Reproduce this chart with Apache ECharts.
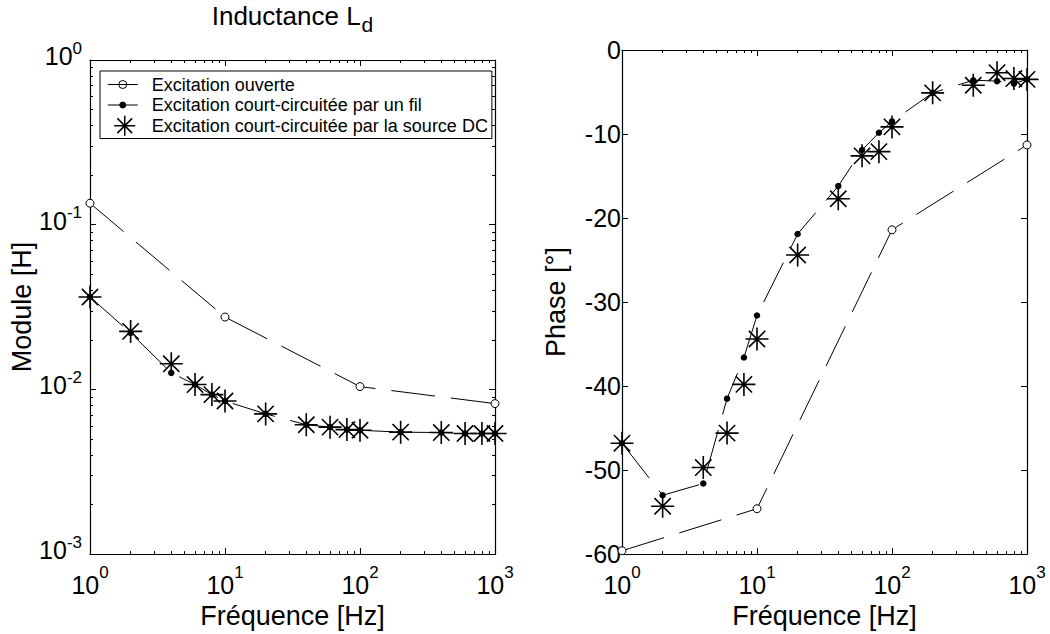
<!DOCTYPE html>
<html>
<head>
<meta charset="utf-8">
<script src="https://cdn.jsdelivr.net/npm/echarts@6/dist/echarts.min.js"></script>
<style>html,body{margin:0;padding:0;background:#fff}#c{width:1050px;height:634px}</style>
</head>
<body>
<div id="c"></div>
<script>
// ---- data ----
const freqMain = [1, 2, 4, 6, 8, 10, 20, 40, 60, 80, 100, 200, 400, 600, 800, 1000];
const freqOpen = [1, 10, 100, 1000];
const modOpen = [0.135, 0.0275, 0.0104, 0.0082];
const modWire = [0.0364, 0.0220, 0.0126, 0.0107, 0.0093, 0.0085, 0.0071, 0.0061, 0.0059, 0.0057, 0.00565, 0.0055, 0.00547, 0.0054, 0.0054, 0.0054];
const modDC = [0.0364, 0.0225, 0.0143, 0.0107, 0.0093, 0.0085, 0.0071, 0.0061, 0.0059, 0.0057, 0.00565, 0.0055, 0.00547, 0.0054, 0.0054, 0.0054];
const phOpen = [-59.6, -54.6, -21.4, -11.3];
const phWire = [-46.8, -53.0, -51.6, -41.5, -36.6, -31.6, -21.9, -16.2, -11.9, -9.85, -8.5, -5.1, -3.6, -3.7, -4.0, -3.5];
const phDC = [-46.8, -54.3, -49.7, -45.6, -39.8, -34.4, -24.4, -17.7, -12.6, -12.1, -9.15, -5.1, -4.2, -2.7, -3.4, -3.5];
const seriesNames = ['Excitation ouverte', 'Excitation court-circuitée par un fil', 'Excitation court-circuitée par la source DC'];
const titleText = 'Inductance L';
const titleSub = 'd';
const xName = 'Fréquence [Hz]';
const yNameLeft = 'Module [H]';
const yNameRight = 'Phase [°]';
const xMinorTicks = [2,3,4,5,6,7,8,9,20,30,40,50,60,70,80,90,200,300,400,500,600,700,800,900];
const yMinorTicks = [0.002,0.003,0.004,0.005,0.006,0.007,0.008,0.009,0.02,0.03,0.04,0.05,0.06,0.07,0.08,0.09,0.2,0.3,0.4,0.5,0.6,0.7,0.8,0.9];

const FONT = "'Liberation Sans', Arial, sans-serif";
const pairs = (xs, ys) => xs.map((x, i) => [x, ys[i]]);
const STAR = 'path://M50,0L50,100M0,50L100,50M14.6,14.6L85.4,85.4M14.6,85.4L85.4,14.6';
const DASH = [44, 16];
const black = '#000';
const AX_W = 1.2;

const supFmt = v => '{b|10}{s|' + Math.round(Math.log10(v)) + '}';
const richX = { b: { fontSize: 25, fontFamily: FONT, color: black, padding: [8, 0, 0, 0] }, s: { fontSize: 17, fontFamily: FONT, color: black, verticalAlign: 'top' } };
const richY = { b: { fontSize: 25, fontFamily: FONT, color: black, padding: [4, 0, 12, 0] }, s: { fontSize: 17, fontFamily: FONT, color: black, verticalAlign: 'top' } };

function logAxis(grid, pos, min, max, opts) {
  return Object.assign({
    gridIndex: grid, type: 'log', logBase: 10, min: min, max: max, position: pos,
    axisLine: { show: true, onZero: false, lineStyle: { color: black, width: AX_W } },
    axisTick: { show: true, inside: true, length: 6, lineStyle: { color: black } },
    axisLabel: { show: false },
    splitLine: { show: false }, minorTick: { show: false }, minorSplitLine: { show: false }
  }, opts || {});
}
function minorAxis(grid, pos, min, max, vals) {
  return {
    gridIndex: grid, type: 'log', logBase: 10, min: min, max: max, position: pos,
    axisLine: { show: false, onZero: false },
    axisTick: { show: true, inside: true, length: 3, customValues: vals, lineStyle: { color: black } },
    axisLabel: { show: false }, splitLine: { show: false }
  };
}
const nameStyle = { fontSize: 27, fontFamily: FONT, color: black };

const xAxes = [
  logAxis(0, 'bottom', 1, 1000, { name: xName, nameLocation: 'middle', nameGap: 39, nameTextStyle: nameStyle,
    axisLabel: { show: true, formatter: supFmt, rich: richX, margin: 10 } }),
  minorAxis(0, 'bottom', 1, 1000, xMinorTicks),
  logAxis(0, 'top', 1, 1000),
  minorAxis(0, 'top', 1, 1000, xMinorTicks),
  logAxis(1, 'bottom', 1, 1000, { name: xName, nameLocation: 'middle', nameGap: 39, nameTextStyle: nameStyle,
    axisLabel: { show: true, formatter: supFmt, rich: richX, margin: 10 } }),
  minorAxis(1, 'bottom', 1, 1000, xMinorTicks),
  logAxis(1, 'top', 1, 1000),
  minorAxis(1, 'top', 1, 1000, xMinorTicks)
];
const yAxes = [
  logAxis(0, 'left', 0.001, 1, { name: yNameLeft, nameLocation: 'middle', nameGap: 46, nameRotate: 90, nameTextStyle: nameStyle,
    axisLabel: { show: true, formatter: supFmt, rich: richY, margin: 8 } }),
  minorAxis(0, 'left', 0.001, 1, yMinorTicks),
  logAxis(0, 'right', 0.001, 1),
  minorAxis(0, 'right', 0.001, 1, yMinorTicks),
  { gridIndex: 1, type: 'value', min: -60, max: 0, interval: 10, position: 'left',
    name: yNameRight, nameLocation: 'middle', nameGap: 53, nameRotate: 90, nameTextStyle: nameStyle,
    axisLine: { show: true, onZero: false, lineStyle: { color: black, width: AX_W } },
    axisTick: { show: true, inside: true, length: 6, lineStyle: { color: black } },
    axisLabel: { show: true, fontSize: 25, fontFamily: FONT, color: black, margin: 1 },
    splitLine: { show: false } },
  { gridIndex: 1, type: 'value', min: -60, max: 0, interval: 10, position: 'right',
    axisLine: { show: true, onZero: false, lineStyle: { color: black, width: AX_W } },
    axisTick: { show: true, inside: true, length: 6, lineStyle: { color: black } },
    axisLabel: { show: false }, splitLine: { show: false } }
];

function openSeries(xi, yi, data) {
  return { name: seriesNames[0], type: 'line', xAxisIndex: xi, yAxisIndex: yi, data: data, clip: false,
    symbol: 'circle', symbolSize: 8, silent: true,
    itemStyle: { color: '#fff', borderColor: black, borderWidth: 1 },
    lineStyle: { color: black, width: 1, type: DASH }, z: 2 };
}
function wireSeries(xi, yi, data) {
  return { name: seriesNames[1], type: 'line', xAxisIndex: xi, yAxisIndex: yi, data: data, clip: false,
    symbol: 'circle', symbolSize: 6.5, silent: true,
    itemStyle: { color: black, borderColor: black, borderWidth: 0 },
    lineStyle: { color: black, width: 1, type: DASH }, z: 3 };
}
function dcSeries(xi, yi, data) {
  return { name: seriesNames[2], type: 'line', xAxisIndex: xi, yAxisIndex: yi, data: data, clip: false,
    symbol: STAR, symbolSize: 23, silent: true,
    itemStyle: { color: black, borderColor: black, borderWidth: 1.6 },
    lineStyle: { color: black, width: 0, opacity: 0 }, z: 4 };
}

const option = {
  animation: false,
  backgroundColor: '#fff',
  grid: [
    { left: 90, top: 60, width: 405, height: 504 },
    { left: 622, top: 50, width: 405, height: 514 }
  ],
  xAxis: xAxes,
  yAxis: yAxes,
  legend: {
    left: 100, top: 71, orient: 'vertical', selectedMode: false,
    itemWidth: 40, itemHeight: 20, itemGap: -0.5, padding: [3, 4, 2, 6],
    borderColor: black, borderWidth: 1, backgroundColor: '#fff',
    textStyle: { fontSize: 18, fontFamily: FONT, color: black, lineHeight: 20 },
    data: [
      { name: seriesNames[0], icon: 'path://M0,0M40,20M1,10L31,10M12,10a4,4 0 1,0 8,0a4,4 0 1,0 -8,0',
        itemStyle: { color: '#fff', borderColor: black, borderWidth: 1 } },
      { name: seriesNames[1], icon: 'path://M0,0M40,20M1,10L31,10M13,10a3,3 0 1,0 6,0a3,3 0 1,0 -6,0',
        itemStyle: { color: black, borderColor: black, borderWidth: 1 } },
      { name: seriesNames[2], icon: 'path://M0,0M40,20M18,0L18,20M7.5,10L28.5,10M10.6,2.6L25.4,17.4M10.6,17.4L25.4,2.6',
        itemStyle: { color: black, borderColor: black, borderWidth: 1.5 } }
    ]
  },
  graphic: [{
    type: 'text', x: 292.5, y: 19, z: 10,
    style: { text: '{a|' + titleText + '}{d|' + titleSub + '}', align: 'center', verticalAlign: 'middle',
      rich: { a: { fontSize: 26, fontFamily: FONT, color: black, lineHeight: 32, verticalAlign: 'top' },
              d: { fontSize: 21, fontFamily: FONT, color: black, lineHeight: 32, verticalAlign: 'bottom', padding: [10, 0, 0, 1] } } }
  }],
  series: [
    openSeries(0, 0, pairs(freqOpen, modOpen)),
    wireSeries(0, 0, pairs(freqMain, modWire)),
    dcSeries(0, 0, pairs(freqMain, modDC)),
    openSeries(4, 4, pairs(freqOpen, phOpen)),
    wireSeries(4, 4, pairs(freqMain, phWire)),
    dcSeries(4, 4, pairs(freqMain, phDC))
  ]
};
const chart = echarts.init(document.getElementById('c'), null, { renderer: 'svg' });
chart.setOption(option);
</script>
</body>
</html>
